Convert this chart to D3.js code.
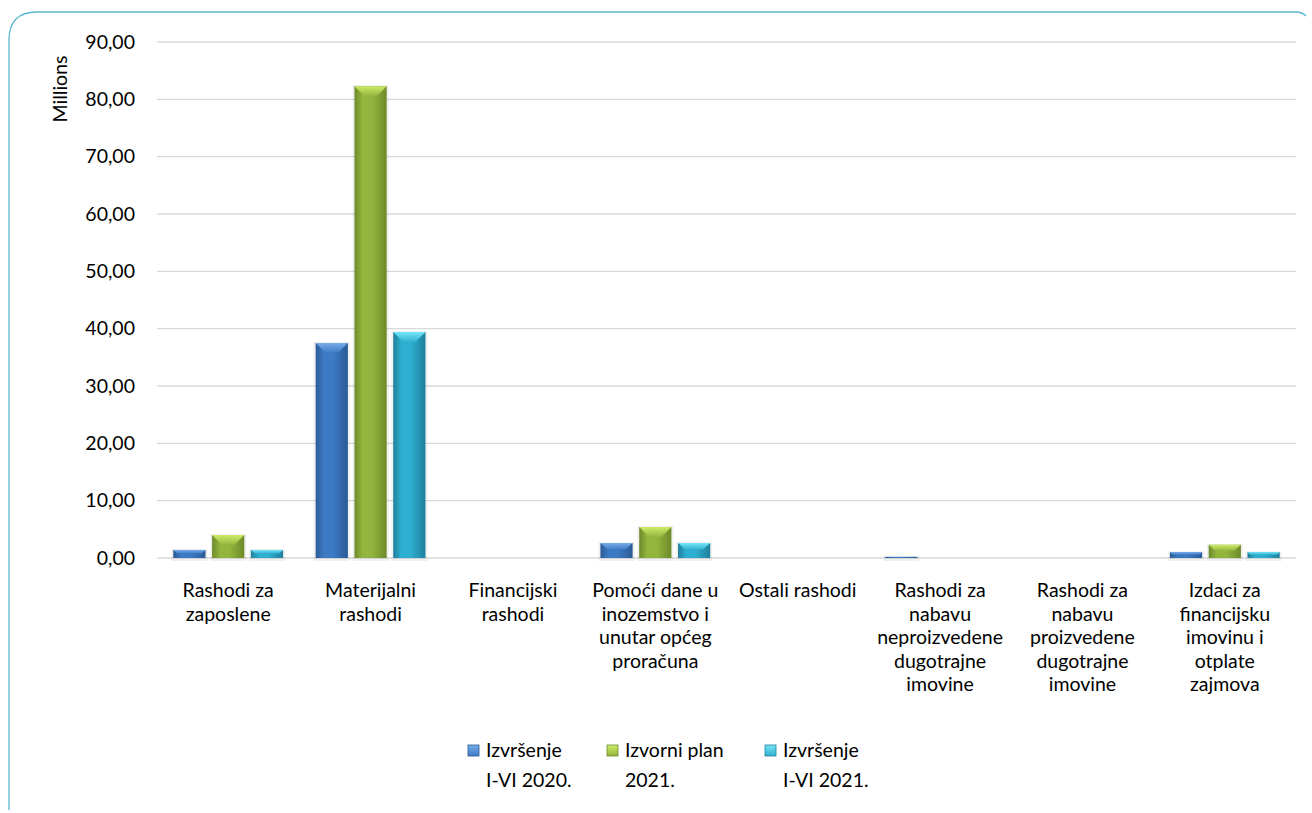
<!DOCTYPE html>
<html lang="hr">
<head>
<meta charset="UTF-8">
<title>Rashodi</title>
<script src="https://d3js.org/d3.v7.min.js"></script>
<style>
  body { margin: 0; background: #fff; }
  text { font-family: Lato, "Open Sans", sans-serif; fill: #000; }
</style>
</head>
<body>
<svg id="chart" width="1312" height="813"></svg>
<script>
// category labels, already broken into lines
const categories = [
  ["Rashodi za", "zaposlene"],
  ["Materijalni", "rashodi"],
  ["Financijski", "rashodi"],
  ["Pomoći dane u", "inozemstvo i", "unutar općeg", "proračuna"],
  ["Ostali rashodi"],
  ["Rashodi za", "nabavu", "neproizvedene", "dugotrajne", "imovine"],
  ["Rashodi za", "nabavu", "proizvedene", "dugotrajne", "imovine"],
  ["Izdaci za", "financijsku", "imovinu i", "otplate", "zajmova"]
];
const seriesNames = [["Izvršenje", "I-VI 2020."], ["Izvorni plan", "2021."], ["Izvršenje", "I-VI 2021."]];
// values in millions
const izvrsenje2020 = [1.4, 37.5, 0.0, 2.6, 0.0, 0.2, 0.0, 1.0];
const plan2021      = [4.0, 82.3, 0.0, 5.4, 0.0, 0.0, 0.0, 2.3];
const izvrsenje2021 = [1.4, 39.4, 0.0, 2.6, 0.0, 0.0, 0.0, 1.0];
const yTicks = [0, 10, 20, 30, 40, 50, 60, 70, 80, 90];

const series = [izvrsenje2020, plan2021, izvrsenje2021];
const colors = [
  { dark: "#2b5a95", mid: "#3d7ac4", light: "#78acea" },
  { dark: "#6d8a2a", mid: "#93b43d", light: "#cdec6a" },
  { dark: "#1f7f9c", mid: "#2eaed0", light: "#74e6f7" }
];

const svg = d3.select("#chart");
const margin = { left: 157, right: 16 };
const W = 1312;
const fs = 19.5;

// frame
svg.append("path")
  .attr("d", "M9,810 L9,40 Q9,12 37,12 L1296,12 Q1302,12 1306,16")
  .attr("fill", "none").attr("stroke", "#5bb7cf").attr("stroke-width", 1.3);

const x = d3.scaleBand().domain(d3.range(categories.length))
  .range([margin.left, W - margin.right]);
const xs = d3.scaleBand().domain([0, 1, 2]).range([0, x.bandwidth()]).paddingInner(0.17).paddingOuter(0.42);
const y = d3.scaleLinear().domain([0, 90]).range([558, 42]);

// gradients
const defs = svg.append("defs");
colors.forEach((c, i) => {
  const g = defs.append("linearGradient").attr("id", "g" + i).attr("x1", 0).attr("x2", 1);
  g.append("stop").attr("offset", "0%").attr("stop-color", c.dark);
  g.append("stop").attr("offset", "25%").attr("stop-color", c.mid);
  g.append("stop").attr("offset", "55%").attr("stop-color", c.mid);
  g.append("stop").attr("offset", "100%").attr("stop-color", c.dark);
  const t = defs.append("linearGradient").attr("id", "t" + i).attr("x1", 0).attr("x2", 0).attr("y1", 0).attr("y2", 1);
  t.append("stop").attr("offset", "0%").attr("stop-color", c.light);
  t.append("stop").attr("offset", "100%").attr("stop-color", c.mid);
});

// grid
svg.append("g").selectAll("line").data(yTicks).join("line")
  .attr("x1", margin.left).attr("x2", W - margin.right)
  .attr("y1", d => y(d)).attr("y2", d => y(d))
  .attr("stroke", "#d9d9d9").attr("stroke-width", 1.3);

// y axis labels
const fmt = d => d3.format(".2f")(d).replace(".", ",");
svg.append("g").selectAll("text").data(yTicks).join("text")
  .attr("x", 135).attr("y", d => y(d)).attr("dy", "0.35em")
  .attr("text-anchor", "end").attr("font-size", fs).text(fmt);

svg.append("text").attr("transform", "translate(67,89) rotate(-90)")
  .attr("text-anchor", "middle").attr("font-size", fs).text("Millions");

// bars
series.forEach((vals, si) => {
  const g = svg.append("g");
  const bw = xs.bandwidth();
  const items = vals.map((v, ci) => ({ v, ci })).filter(d => d.v > 0);
  // soft shadow
  g.selectAll("rect.sh").data(items).join("rect")
    .attr("x", d => x(d.ci) + xs(si) - 2).attr("width", bw + 4)
    .attr("y", d => y(d.v) - 1).attr("height", d => y(0) - y(d.v) + 4)
    .attr("fill", "#000").attr("opacity", 0.06);
  g.selectAll("rect.b").data(items).join("rect")
    .attr("x", d => x(d.ci) + xs(si)).attr("width", bw)
    .attr("y", d => y(d.v)).attr("height", d => y(0) - y(d.v))
    .attr("fill", "url(#g" + si + ")");
  // bevelled top
  g.selectAll("path.top").data(items.filter(d => y(0) - y(d.v) > 4)).join("path")
    .attr("d", d => {
      const x0 = x(d.ci) + xs(si), y0 = y(d.v);
      const h = Math.min(10, (y(0) - y0) / 2.2), inset = Math.min(10, h * 1.1);
      return `M${x0},${y0} L${x0 + bw},${y0} L${x0 + bw - inset},${y0 + h} L${x0 + inset},${y0 + h} Z`;
    })
    .attr("fill", "url(#t" + si + ")");
});

// category labels
const lab = svg.append("g").selectAll("text").data(categories).join("text")
  .attr("text-anchor", "middle").attr("font-size", fs)
  .attr("transform", (d, i) => `translate(${x(i) + x.bandwidth() / 2},597)`);
lab.selectAll("tspan").data(d => d).join("tspan")
  .attr("x", 0).attr("dy", (d, i) => i === 0 ? 0 : 23.5).text(d => d);

// legend
const legX = [468, 607, 765];
const leg = svg.append("g").selectAll("g").data(seriesNames).join("g")
  .attr("transform", (d, i) => `translate(${legX[i]},745)`);
leg.append("rect").attr("width", 11).attr("height", 11)
  .attr("fill", (d, i) => `url(#t${i})`).attr("stroke", (d, i) => colors[i].dark).attr("stroke-width", 0.8);
const lt = leg.append("text").attr("y", 12).attr("font-size", fs);
lt.selectAll("tspan").data(d => d).join("tspan")
  .attr("x", 18).attr("dy", (d, i) => i === 0 ? 0 : 30).text(d => d);
</script>
</body>
</html>
